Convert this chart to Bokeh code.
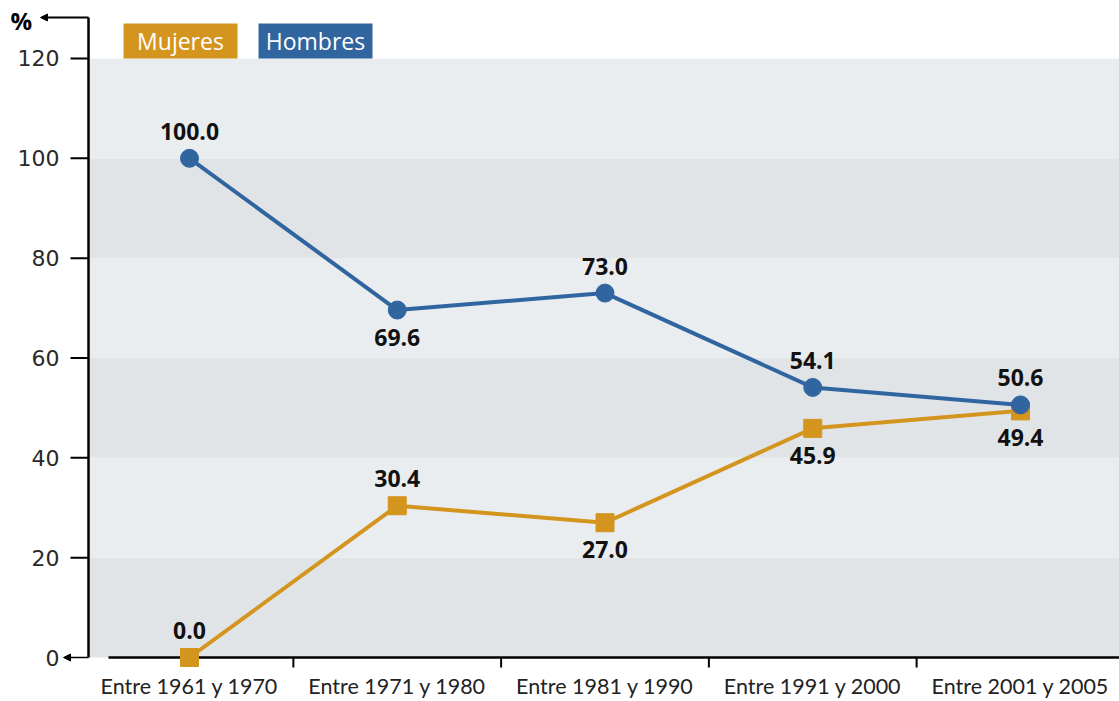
from bokeh.plotting import figure
from bokeh.models import Range1d, BoxAnnotation, Arrow, NormalHead, ColumnDataSource
from bokeh.core.properties import value
from bokeh.embed import file_html
from bokeh.resources import INLINE

# ---------------- data ----------------
categories = ["Entre 1961 y 1970", "Entre 1971 y 1980", "Entre 1981 y 1990",
              "Entre 1991 y 2000", "Entre 2001 y 2005"]
hombres = [100.0, 69.6, 73.0, 54.1, 50.6]
mujeres = [0.0, 30.4, 27.0, 45.9, 49.4]
hombres_label_pos = ["above", "below", "above", "above", "above"]
mujeres_label_pos = ["above", "above", "below", "below", "below"]
y_ticks = [0, 20, 40, 60, 80, 100, 120]
tick_labels = ["0", "20", "40", "60", "80", "100", "120"]
series_names = ["Mujeres", "Hombres"]
unit_label = "%"

# ---------------- style / geometry ----------------
BLUE = "#31659f"
ORANGE = "#d4951f"
BAND_LIGHT = "#eaedf0"
BAND_DARK = "#e1e4e7"
LABEL_FONT = "Open Sans"
TICK_FONT = "DejaVu Sans"
CAT_FONT = "Lato"

W, H = 1119, 701
PX_PER_CAT = 207.75      # horizontal pixels per category
CAT0_PX = 189.0          # pixel column of first category
PX_PER_UNIT = 4.992      # vertical pixels per percent
ZERO_PX = 657.0          # pixel row of y = 0


def xpx(px):
    return (px - CAT0_PX) / PX_PER_CAT


def ypx(py):
    return (ZERO_PX - py) / PX_PER_UNIT


X0, X1 = xpx(0), xpx(W)
Y0, Y1 = ypx(H), ypx(0)
AX = xpx(88)            # y axis position
AX_TOP = ypx(17)        # top of y axis

p = figure(width=W, height=H, output_backend="svg", toolbar_location=None,
           x_range=Range1d(X0, X1), y_range=Range1d(Y0, Y1),
           x_axis_location=None, y_axis_location=None,
           min_border_left=0, min_border_right=0, min_border_top=0,
           min_border_bottom=0,
           background_fill_color="white", border_fill_color="white",
           outline_line_color=None)
p.grid.visible = False

# alternating horizontal bands
for i in range(len(y_ticks) - 1):
    p.add_layout(BoxAnnotation(left=AX, bottom=y_ticks[i], top=y_ticks[i + 1],
                               fill_color=BAND_DARK if i % 2 == 0 else BAND_LIGHT,
                               fill_alpha=1, line_color=None, level="underlay"))

# y axis: line, ticks, labels, arrows
p.segment(x0=[AX], y0=[0], x1=[AX], y1=[AX_TOP], line_width=2.5, line_color="black")
p.segment(x0=[AX] * (len(y_ticks) - 1), y0=y_ticks[1:],
          x1=[xpx(70)] * (len(y_ticks) - 1), y1=y_ticks[1:],
          line_width=2, line_color="black")
p.text(x=[xpx(59)] * len(y_ticks), y=y_ticks, text=tick_labels, text_align="right",
       text_baseline="middle", text_font=value(TICK_FONT), text_font_size="22px",
       text_color="#2a2a2a")
p.add_layout(Arrow(x_start=AX, y_start=0, x_end=xpx(63), y_end=0,
                   end=NormalHead(size=7, fill_color="black", line_color="black"),
                   line_width=1.5, line_color="black"))
p.add_layout(Arrow(x_start=AX, y_start=AX_TOP, x_end=xpx(40), y_end=AX_TOP,
                   end=NormalHead(size=7, fill_color="black", line_color="black"),
                   line_width=2, line_color="black"))
p.text(x=[xpx(10)], y=[ypx(20)], text=[unit_label], text_align="left",
       text_baseline="middle", text_font=value(LABEL_FONT), text_font_style="bold",
       text_font_size="24px", text_color="black")

# x axis: line, tick marks between categories, category labels
n = len(categories)
xs = list(range(n))
p.segment(x0=[xpx(108)], y0=[0], x1=[X1], y1=[0], line_width=2.5, line_color="black")
p.segment(x0=[i + 0.5 for i in range(n - 1)], y0=[0] * (n - 1),
          x1=[i + 0.5 for i in range(n - 1)], y1=[ypx(667)] * (n - 1),
          line_width=2, line_color="black")
p.text(x=xs, y=[ypx(685)] * n, text=categories, text_align="center",
       text_baseline="middle", text_font=value(CAT_FONT), text_font_size="21.5px",
       text_color="#222222")

# Mujeres
src_m = ColumnDataSource(dict(x=xs, y=mujeres,
                              lab=[f"{v:.1f}" for v in mujeres],
                              off=[-27 if s == "above" else 27 for s in mujeres_label_pos]))
p.line("x", "y", source=src_m, line_width=4, line_color=ORANGE)
p.scatter("x", "y", source=src_m, marker="square", size=18, fill_color=ORANGE,
          line_color=ORANGE)

# Hombres
src_h = ColumnDataSource(dict(x=xs, y=hombres,
                              lab=[f"{v:.1f}" for v in hombres],
                              off=[-27 if s == "above" else 27 for s in hombres_label_pos]))
p.line("x", "y", source=src_h, line_width=4, line_color=BLUE)
p.scatter("x", "y", source=src_h, marker="circle", size=18, fill_color=BLUE,
          line_color=BLUE)

for src in (src_m, src_h):
    p.text("x", "y", text="lab", source=src, y_offset="off", text_align="center",
           text_baseline="middle", text_font=value(LABEL_FONT), text_font_style="bold",
           text_font_size="23px", text_color="#111111")

# legend boxes
legend_left = [xpx(123), xpx(258)]
legend_right = [xpx(237), xpx(372)]
p.quad(left=legend_left, right=legend_right, bottom=[120, 120], top=[ypx(23)] * 2,
       fill_color=[ORANGE, BLUE], line_color=None)
p.text(x=[(a + b) / 2 for a, b in zip(legend_left, legend_right)],
       y=[(120 + ypx(23)) / 2] * 2,
       text=series_names, text_align="center", text_baseline="middle",
       text_font=value(LABEL_FONT), text_font_size="23px", text_color="white")

open("out.html", "w").write(file_html(p, INLINE))
